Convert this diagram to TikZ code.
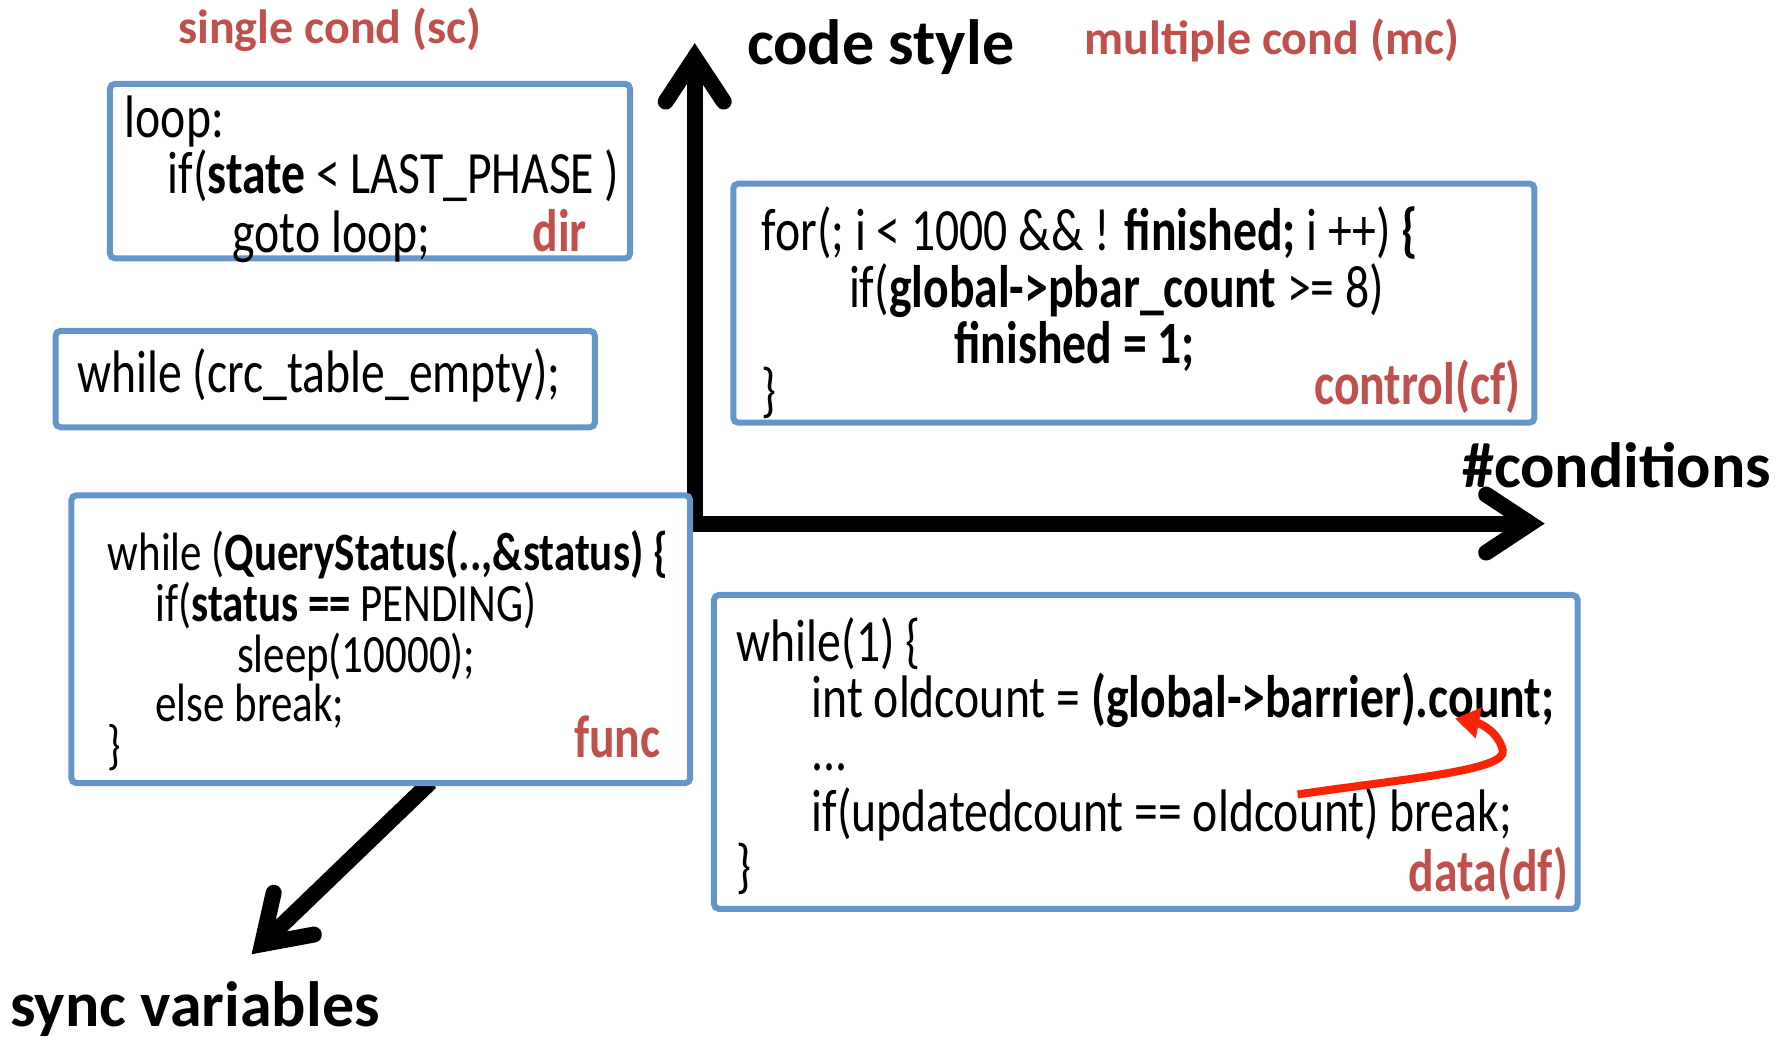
\documentclass[tikz,border=0pt]{standalone}
\usepackage{fontspec}
\setmainfont{Carlito}
\newfontfamily\codefont{Carlito}[FakeStretch=0.795]
\usetikzlibrary{arrows.meta,fit}
\definecolor{boxblue}{RGB}{100,150,202}
\definecolor{labred}{RGB}{192,80,77}
\definecolor{arrred}{RGB}{250,35,5}
\tikzset{
  codebox/.style={draw=boxblue, line width=6pt, rounded corners=5pt, fill=white, inner sep=0pt},
  codeline/.style={anchor=base west, inner sep=0pt, font=\codefont\fontsize{60}{60}\selectfont},
  smallcode/.style={codeline, font=\codefont\fontsize{54}{54}\selectfont},
  boxlabel/.style={anchor=base east, inner sep=0pt, text=labred, font=\codefont\fontsize{60}{60}\selectfont\bfseries},
  headlabel/.style={anchor=base west, inner sep=0pt, text=labred, font=\fontsize{48}{48}\selectfont\bfseries},
  axislabel/.style={anchor=base west, inner sep=0pt, font=\fontsize{64}{64}\selectfont\bfseries},
  axisline/.style={line width=16pt, -{Straight Barb[length=44pt,width=58pt,line join=miter,line cap=round]}},
  linkarrow/.style={draw=arrred, line width=8pt, -{Triangle[length=24pt,width=30pt]}}
}
\begin{document}
\begin{tikzpicture}[x=1.13333pt,y=-1.13333pt]
\useasboundingbox (0,0) rectangle (1568,918);
% axes
\coordinate (Obot) at (613,469);
\coordinate (Oleft) at (606,462);
\coordinate (ytip) at (613,38);
\coordinate (xtip) at (1363,462);
\coordinate (zs) at (380,690);
\coordinate (ztip) at (222,842);
\draw[axisline] (Obot) -- (ytip);
\draw[axisline] (Oleft) -- (xtip);
\draw[axisline] (zs) -- (ztip);
% boxes
\node[codebox, fit={(97,74) (556,228)}] (b1) {};
\node[codebox, fit={(49,292) (525,377)}] (b2) {};
\node[codebox, fit={(647,162) (1354,373)}] (b3) {};
\node[codebox, fit={(63,437) (609,691)}] (b4) {};
\node[codebox, fit={(630,525) (1392,802)}] (b5) {};
% headings
\node[headlabel] (sc) at (157,38) {single cond (sc)};
\node[headlabel] (mc) at (957,48) {multiple cond (mc)};
\node[axislabel] (ylab) at (659,57) {code style};
\node[axislabel] (xlab) at (1290,430) {\#conditions};
\node[axislabel] (zlab) at (9,906) {sync variables};
% box 1
\node[codeline] (b1l1) at (110,121) {loop:};
\node[codeline] (b1l2) at (148,171) {if(\textbf{state} < LAST\_PHASE )};
\node[codeline] (b1l3) at (205,223) {goto loop;};
\node[boxlabel] (b1lab) at (518,222) {dir};
% box 2
\node[codeline] (b2l1) at (68,346) {while (crc\_table\_empty);};
% box 3
\node[codeline] (b3l1) at (672,221) {for(; i < 1000 \&\& ! \textbf{finished;} i ++) \textbf{\{}};
\node[codeline] (b3l2) at (749,271) {if(\textbf{global->pbar\_count} >= 8)};
\node[codeline] (b3l3) at (842,321) {\textbf{finished = 1;}};
\node[codeline] (b3l4) at (672,362) {\}};
\node[boxlabel] (b3lab) at (1342,357) {control(cf)};
% box 4
\node[smallcode] (b4l1) at (95,503) {while (\textbf{QueryStatus(..,\&status) \{}};
\node[smallcode] (b4l2) at (137,548) {if(\textbf{status ==} PENDING)};
\node[smallcode] (b4l3) at (209,593) {sleep(10000);};
\node[smallcode] (b4l4) at (137,637) {else break;};
\node[smallcode] (b4l5) at (95,674) {\}};
\node[boxlabel] (b4lab) at (583,668) {func};
% box 5
\node[codeline] (b5l1) at (650,584) {while(1) \{};
\node[codeline] (b5l2) at (716,633) {int oldcount = \textbf{(global->barrier).count;}};
\node[codeline] (b5l3) at (716,680) {...};
\node[codeline] (b5l4) at (716,734) {if(updatedcount == oldcount) break;};
\node[codeline] (b5l5) at (650,782) {\}};
\node[boxlabel] (b5lab) at (1384,787) {data(df)};
% data-flow arrow
\coordinate (rs) at (1145,701);
\coordinate (rm) at (1326,662);
\coordinate (rt) at (1284,634);
\draw[linkarrow] (rs) .. controls (1240,687) and (1330,680) .. (rm) .. controls (1322,645) and (1305,638) .. (rt);
\end{tikzpicture}
\end{document}
